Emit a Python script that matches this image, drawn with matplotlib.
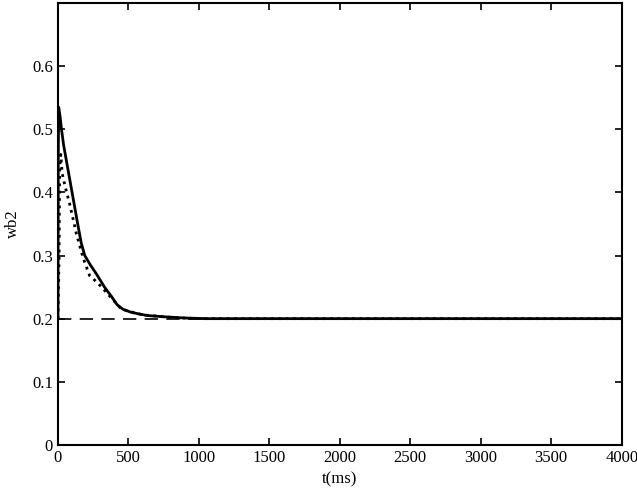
import matplotlib
matplotlib.use("Agg")
import matplotlib.pyplot as plt

# values
t_solid = [0, 2, 5, 15, 25, 40, 60, 80, 100, 120, 140, 165, 190, 230, 275, 330, 380, 420, 460, 520, 630, 750, 900, 1050, 1300, 4000]
wb2_solid = [0.2, 0.45, 0.535, 0.52, 0.50, 0.475, 0.45, 0.425, 0.40, 0.375, 0.35, 0.32, 0.30, 0.285, 0.27, 0.25, 0.235, 0.222, 0.215, 0.21, 0.205, 0.203, 0.201, 0.2, 0.2, 0.2]

t_dot = [0, 8, 12, 20, 30, 50, 85, 130, 180, 225, 280, 350, 450, 600, 800, 1000, 4000]
wb2_dot = [0.2, 0.30, 0.44, 0.46, 0.43, 0.41, 0.38, 0.335, 0.295, 0.268, 0.257, 0.24, 0.215, 0.206, 0.202, 0.2, 0.2]

t_ref = [0, 4000]
wb2_ref = [0.2, 0.2]

xticks = [0, 500, 1000, 1500, 2000, 2500, 3000, 3500, 4000]
yticks = [0, 0.1, 0.2, 0.3, 0.4, 0.5, 0.6]

plt.rcParams['font.family'] = ['Liberation Serif', 'DejaVu Serif']

fig = plt.figure(figsize=(6.37, 4.96), dpi=100)
ax = fig.add_axes([0.091, 0.103, 0.885, 0.891])

ax.plot(t_ref, wb2_ref, color='black', linestyle=(0, (8, 5)), linewidth=1.2)
ax.plot(t_dot, wb2_dot, color='black', linestyle=':', linewidth=2.0)
ax.plot(t_solid, wb2_solid, color='black', linewidth=2.0)

ax.set_xlim(0, 4000)
ax.set_ylim(0, 0.7)
ax.set_xticks(xticks)
ax.set_yticks(yticks)
ax.set_yticklabels([f"{v:g}" for v in yticks])
ax.tick_params(direction='in', top=True, right=True, length=5, width=1.2, labelsize=12)
for s in ax.spines.values():
    s.set_linewidth(1.5)

ax.set_xlabel('t(ms)', fontsize=12, labelpad=4)
ax.set_ylabel('wb2', fontsize=12, labelpad=8)

fig.savefig('out.png', dpi=100)
